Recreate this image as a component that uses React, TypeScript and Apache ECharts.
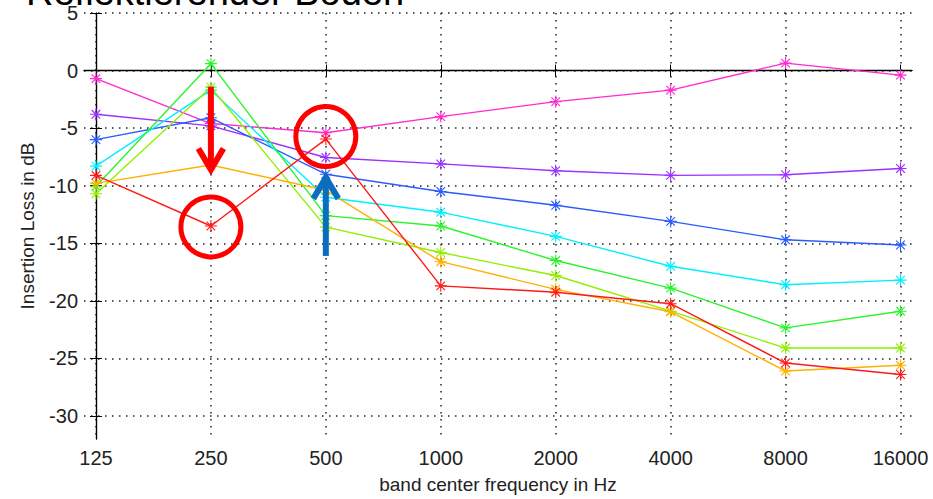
import React, { useEffect, useRef } from "react";
import * as echarts from "echarts";

const frequencies = ["125", "250", "500", "1000", "2000", "4000", "8000", "16000"];
const yTicks = [-30, -25, -20, -15, -10, -5, 0, 5];

const magenta = [-0.7, -4.6, -5.4, -4.0, -2.7, -1.7, 0.65, -0.4];
const purple = [-3.8, -4.8, -7.55, -8.1, -8.7, -9.1, -9.05, -8.5];
const blue = [-6.0, -4.1, -9.0, -10.5, -11.7, -13.1, -14.7, -15.15];
const cyan = [-8.3, -1.7, -11.0, -12.3, -14.4, -17.0, -18.6, -18.2];
const green = [-10.05, 0.6, -12.6, -13.5, -16.5, -18.9, -22.35, -20.9];
const lime = [-10.7, -1.45, -13.6, -15.8, -17.8, -20.9, -24.1, -24.1];
const orange = [-9.8, -8.2, -10.4, -16.6, -19.0, -20.95, -26.1, -25.6];
const red = [-9.1, -13.5, -5.95, -18.7, -19.25, -20.25, -25.4, -26.4];

const seriesDefs = [
  { name: "magenta", values: magenta, color: "#ff2ad0" },
  { name: "purple", values: purple, color: "#9b30ff" },
  { name: "blue", values: blue, color: "#2a5cff" },
  { name: "cyan", values: cyan, color: "#00f0ff" },
  { name: "green", values: green, color: "#2af52a" },
  { name: "lime", values: lime, color: "#90f000" },
  { name: "orange", values: orange, color: "#ffb000" },
  { name: "red", values: red, color: "#ff1a1a" },
];

// annotation anchors in data coordinates (octave index, dB)
const circleAnchors = [
  [1, -13.58],
  [2, -5.73],
];
const redArrow = { x: 1, from: -1.4, to: -8.6 };
const blueArrow = { x: 2, from: -16.1, to: -9.3 };

const ASTERISK =
  "path://M5.45 0 H6.55 V12 H5.45 Z M0 5.45 H12 V6.55 H0 Z M1.3 2.1 L2.1 1.3 L10.7 9.9 L9.9 10.7 Z M9.9 1.3 L10.7 2.1 L2.1 10.7 L1.3 9.9 Z";

const FONT = "Liberation Sans, Arial, sans-serif";

export default function App() {
  const ref = useRef<HTMLDivElement>(null);
  useEffect(() => {
    if (!ref.current) return;
    const chart = echarts.init(ref.current, undefined, { renderer: "svg" });
    const idx = frequencies.map((_, i) => i);
    const gridStyle = { show: true, lineStyle: { color: "#222", width: 1.5, type: [1.5, 5.5] as any } };
    const xBase = {
      type: "value" as const,
      min: -0.104,
      max: 7.1,
      axisLine: { show: true, lineStyle: { color: "#000", width: 1.2 } },
    };
    const yBase = {
      type: "value" as const,
      min: -32,
      max: 5,
      axisLine: { show: true, lineStyle: { color: "#000", width: 1.2 } },
    };
    const option: any = {
      animation: false,
      backgroundColor: "#fff",
      grid: { left: 84, right: 21, top: 13, bottom: 56, containLabel: false },
      graphic: [],
      xAxis: [
        {
          ...xBase,
          position: "bottom",
          name: "band center frequency in Hz",
          nameLocation: "middle",
          nameGap: 36,
          nameTextStyle: { fontFamily: FONT, fontSize: 19, color: "#222" },
          axisTick: { show: true, inside: true, length: 6, customValues: idx, lineStyle: { color: "#000" } },
          axisLabel: {
            show: true,
            customValues: idx,
            showMinLabel: true,
            showMaxLabel: true,
            margin: 9,
            fontFamily: FONT,
            fontSize: 20,
            color: "#222",
            formatter: (v: number) => frequencies[Math.round(v)] ?? "",
          },
          splitLine: gridStyle,
        },
        {
          ...xBase,
          position: "top",
          axisTick: { show: true, inside: true, length: 6, customValues: idx, lineStyle: { color: "#000" } },
          axisLabel: { show: false, customValues: idx },
          splitLine: { show: false },
        },
      ],
      yAxis: [
        {
          ...yBase,
          position: "left",
          name: "Insertion Loss in dB",
          nameLocation: "middle",
          nameGap: 47,
          nameTextStyle: { fontFamily: FONT, fontSize: 19, color: "#222" },
          axisTick: { show: true, inside: true, length: 6, customValues: yTicks, lineStyle: { color: "#000" } },
          axisLabel: {
            show: true,
            customValues: yTicks,
            showMinLabel: true,
            showMaxLabel: true,
            hideOverlap: false,
            margin: 6,
            fontFamily: FONT,
            fontSize: 20,
            color: "#222",
          },
          splitLine: gridStyle,
        },
        {
          ...yBase,
          position: "right",
          axisTick: { show: true, inside: true, length: 6, customValues: yTicks, lineStyle: { color: "#000" } },
          axisLabel: { show: false, customValues: yTicks },
          splitLine: { show: false },
        },
      ],
      series: seriesDefs.map((s, si) => ({
        type: "line",
        name: s.name,
        xAxisIndex: 0,
        yAxisIndex: 0,
        data: s.values.map((v, i) => [i, v]),
        symbol: ASTERISK,
        symbolSize: 12,
        showSymbol: true,
        lineStyle: { color: s.color, width: 1.4 },
        itemStyle: { color: s.color, borderWidth: 0 },
        z: 3 + si,
        markLine:
          si === 0
            ? {
                silent: true,
                symbol: "none",
                label: { show: false },
                lineStyle: { color: "#000", width: 1.3, type: "solid" },
                data: [{ yAxis: 0 }],
                z: 2,
              }
            : undefined,
      })),
    };
    chart.setOption(option);

    const px = (x: number, y: number) => chart.convertToPixel({ xAxisIndex: 0, yAxisIndex: 0 }, [x, y]) as number[];
    const graphics: any[] = [];
    graphics.push({
      type: "text",
      x: 26,
      y: 11,
      style: {
        text: "Reflektierender Boden",
        fontFamily: FONT,
        fontSize: 38,
        fill: "#000",
        verticalAlign: "bottom",
      },
      z: 1,
    });
    circleAnchors.forEach(([x, y]) => {
      const p = px(x, y);
      graphics.push({
        type: "circle",
        shape: { cx: p[0], cy: p[1], r: 30 },
        style: { fill: "none", stroke: "#ff0000", lineWidth: 5 },
        z: 100,
      });
    });
    const arrow = (a: { x: number; from: number; to: number }, color: string, w: number) => {
      const s = px(a.x, a.from);
      const t = px(a.x, a.to);
      const dir = Math.sign(t[1] - s[1]);
      graphics.push({
        type: "line",
        shape: { x1: s[0], y1: s[1], x2: t[0], y2: t[1] - dir * 2 },
        style: { stroke: color, lineWidth: w },
        z: 101,
      });
      graphics.push({
        type: "polyline",
        shape: {
          points: [
            [t[0] - 12.5, t[1] - dir * 21],
            [t[0], t[1]],
            [t[0] + 12.5, t[1] - dir * 21],
          ],
        },
        style: { stroke: color, lineWidth: w, fill: "none", lineJoin: "miter" },
        z: 101,
      });
    };
    arrow(redArrow, "#ff0000", 6);
    arrow(blueArrow, "#0a6ec0", 6);
    chart.setOption({ graphic: graphics });

    return () => chart.dispose();
  }, []);
  return <div ref={ref} style={{ width: 933, height: 499, position: "absolute", left: 0, top: 0 }} />;
}
